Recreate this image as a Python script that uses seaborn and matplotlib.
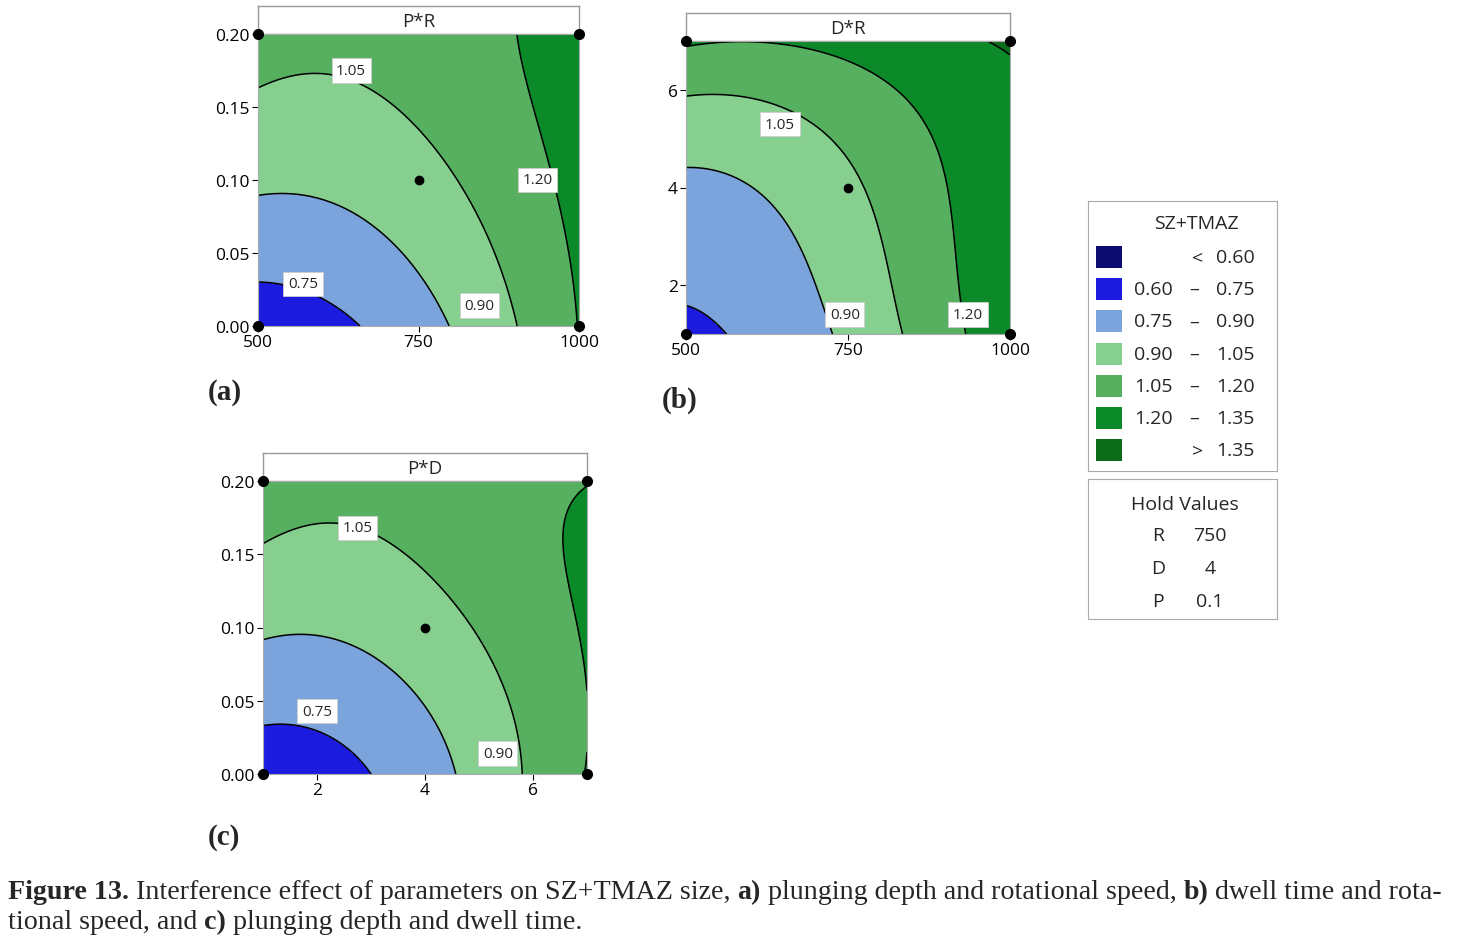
import numpy as np
import matplotlib
matplotlib.use("Agg")
import matplotlib.pyplot as plt
from matplotlib.patches import Rectangle
import seaborn as sns

sns.set_style("white")
plt.rcParams['font.family'] = ['Open Sans', 'DejaVu Sans']

W, H = 1459, 945

# values on a 5x5 grid (rows = y levels, cols = x levels)
speed = [500, 625, 750, 875, 1000]
depth = [0.0, 0.05, 0.10, 0.15, 0.20]
dwell = [1, 2.5, 4, 5.5, 7]

z_pr = [[0.69, 0.71, 0.84, 1.00, 1.21],
        [0.78, 0.82, 0.94, 1.06, 1.22],
        [0.92, 0.96, 1.01, 1.11, 1.24],
        [1.04, 1.00, 1.07, 1.15, 1.26],
        [1.10, 1.08, 1.12, 1.17, 1.28]]
z_dr = [[0.72, 0.82, 0.88, 1.16, 1.29],
        [0.79, 0.86, 0.94, 1.17, 1.30],
        [0.87, 0.92, 1.00, 1.18, 1.31],
        [1.00, 1.04, 1.09, 1.21, 1.33],
        [1.21, 1.22, 1.25, 1.30, 1.36]]
z_pd = [[0.69, 0.70, 0.86, 1.00, 1.20],
        [0.78, 0.80, 0.90, 1.06, 1.21],
        [0.92, 0.93, 0.99, 1.10, 1.21],
        [1.05, 1.02, 1.07, 1.13, 1.21],
        [1.10, 1.08, 1.11, 1.14, 1.21]]

levels = [0.0, 0.60, 0.75, 0.90, 1.05, 1.20, 1.35, 2.0]
level_names = ['<  0.60', '0.60  –  0.75', '0.75  –  0.90', '0.90  –  1.05',
               '1.05  –  1.20', '1.20  –  1.35', '>  1.35']
colors = ['#0b0b70', '#1c1ce0', '#7ca4dc', '#86cf8f', '#56b060', '#0c8a2a', '#0a6b19']


def smooth_surface(xs, ys, z, n=200):
    # cubic least-squares surface through the read grid values
    X, Y = np.meshgrid(xs, ys)
    xn = (X - xs[0]) / (xs[-1] - xs[0])
    yn = (Y - ys[0]) / (ys[-1] - ys[0])
    def basis(a, b):
        return np.stack([a**i * b**j for i in range(4) for j in range(4 - i)], -1)
    coef, *_ = np.linalg.lstsq(basis(xn.ravel(), yn.ravel()), np.ravel(z), rcond=None)
    gx = np.linspace(xs[0], xs[-1], n)
    gy = np.linspace(ys[0], ys[-1], n)
    GX, GY = np.meshgrid(gx, gy)
    a = (GX - xs[0]) / (xs[-1] - xs[0])
    b = (GY - ys[0]) / (ys[-1] - ys[0])
    return GX, GY, basis(a, b) @ coef


def px_axes(fig, x0, y0, x1, y1):
    return fig.add_axes([x0 / W, 1 - y1 / H, (x1 - x0) / W, (y1 - y0) / H])


def panel(fig, box, xs, ys, z, title, xticks, yticks, yfmt, hold, labels, tag, tagpos):
    x0, y0, x1, y1 = box
    head = px_axes(fig, x0, y0 - 28, x1, y0)
    head.set_xticks([]); head.set_yticks([])
    for s in head.spines.values():
        s.set_color('#999999'); s.set_linewidth(1)
    head.text(0.5, 0.45, title, ha='center', va='center', fontsize=13.5)

    ax = px_axes(fig, x0, y0, x1, y1)
    GX, GY, GZ = smooth_surface(xs, ys, z)
    ax.contourf(GX, GY, GZ, levels=levels, colors=colors)
    ax.contour(GX, GY, GZ, levels=levels[1:-1], colors='black', linewidths=1.1)
    ax.set_xlim(xs[0], xs[-1]); ax.set_ylim(ys[0], ys[-1])
    ax.set_xticks(xticks); ax.set_yticks(yticks)
    ax.set_yticklabels([yfmt.format(v) for v in yticks])
    ax.tick_params(direction='out', length=4, width=0.8, labelsize=12.5, pad=2,
                   left=True, bottom=True, colors='black')
    for s in ax.spines.values():
        s.set_color('#aaaaaa'); s.set_linewidth(0.8)
    ax.plot([xs[0], xs[0], xs[-1], xs[-1]], [ys[0], ys[-1], ys[0], ys[-1]], 'ko',
            ms=7, clip_on=False, zorder=5)
    ax.plot([hold[0]], [hold[1]], 'ko', ms=6, zorder=5)
    for (lx, ly, txt) in labels:
        ax.text(lx, ly, txt, ha='center', va='center', fontsize=11, zorder=6,
                bbox=dict(boxstyle='square,pad=0.3', fc='white', ec='#cccccc', lw=0.6))
    fig.text(tagpos[0] / W, 1 - tagpos[1] / H, tag, family='Liberation Serif',
             fontweight='bold', fontsize=21, ha='left', va='center')


fig = plt.figure(figsize=(W / 100, H / 100), dpi=100)

panel(fig, (258, 35, 579, 327), speed, depth, z_pr, 'P*R', [500, 750, 1000],
      [0.0, 0.05, 0.10, 0.15, 0.20], '{:.2f}', (750, 0.10),
      [(645, 0.175, '1.05'), (935, 0.10, '1.20'), (570, 0.029, '0.75'), (845, 0.014, '0.90')],
      '(a)', (208, 393))
panel(fig, (686, 42, 1010, 335), speed, dwell, z_dr, 'D*R', [500, 750, 1000],
      [2, 4, 6], '{:.0f}', (750, 4),
      [(645, 5.3, '1.05'), (935, 1.4, '1.20'), (745, 1.4, '0.90')],
      '(b)', (662, 400))
panel(fig, (263, 482, 587, 775), dwell, depth, z_pd, 'P*D', [2, 4, 6],
      [0.0, 0.05, 0.10, 0.15, 0.20], '{:.2f}', (4, 0.10),
      [(2.75, 0.168, '1.05'), (2.0, 0.043, '0.75'), (5.35, 0.014, '0.90')],
      '(c)', (208, 838))

# legend box
leg = px_axes(fig, 1088, 202, 1277, 472)
leg.set_xlim(0, 189); leg.set_ylim(270, 0)
leg.set_xticks([]); leg.set_yticks([])
for s in leg.spines.values():
    s.set_color('#aaaaaa')
leg.text(108, 22, 'SZ+TMAZ', ha='center', va='center', fontsize=14)
for i, (c, name) in enumerate(zip(colors, level_names)):
    yy = 56 + i * 32.2
    leg.add_patch(Rectangle((8, yy - 11), 26, 22, fc=c, ec='none'))
    if name.startswith('<') or name.startswith('>'):
        leg.text(110, yy, name[0], ha='center', va='center', fontsize=14)
        leg.text(128, yy, name[-4:], ha='left', va='center', fontsize=14)
    else:
        leg.text(46, yy, name[:4], ha='left', va='center', fontsize=14)
        leg.text(106, yy, '–', ha='center', va='center', fontsize=14)
        leg.text(128, yy, name[-4:], ha='left', va='center', fontsize=14)

hold_names = ['R', 'D', 'P']
hold_vals = ['750', '4', '0.1']
hb = px_axes(fig, 1088, 480, 1277, 620)
hb.set_xlim(0, 189); hb.set_ylim(140, 0)
hb.set_xticks([]); hb.set_yticks([])
for s in hb.spines.values():
    s.set_color('#aaaaaa')
hb.text(97, 25, 'Hold Values', ha='center', va='center', fontsize=14)
for i, (n, v) in enumerate(zip(hold_names, hold_vals)):
    yy = 56 + i * 33
    hb.text(70, yy, n, ha='center', va='center', fontsize=14)
    hb.text(122, yy, v, ha='center', va='center', fontsize=14)

# caption with mixed bold pieces
def caption(pieces, x, y):
    r = fig.canvas.get_renderer()
    for txt, bold in pieces:
        t = fig.text(x / W, 1 - y / H, txt, family='Liberation Serif', fontsize=20.2,
                     fontweight='bold' if bold else 'normal', va='center', ha='left')
        x += t.get_window_extent(r).width

caption([('Figure 13.', True), (' Interference effect of parameters on SZ+TMAZ size, ', False),
         ('a)', True), (' plunging depth and rotational speed, ', False), ('b)', True),
         (' dwell time and rota-', False)], 8, 893)
caption([('tional speed, and ', False), ('c)', True),
         (' plunging depth and dwell time.', False)], 8, 923)

fig.savefig('out.png', dpi=100)
